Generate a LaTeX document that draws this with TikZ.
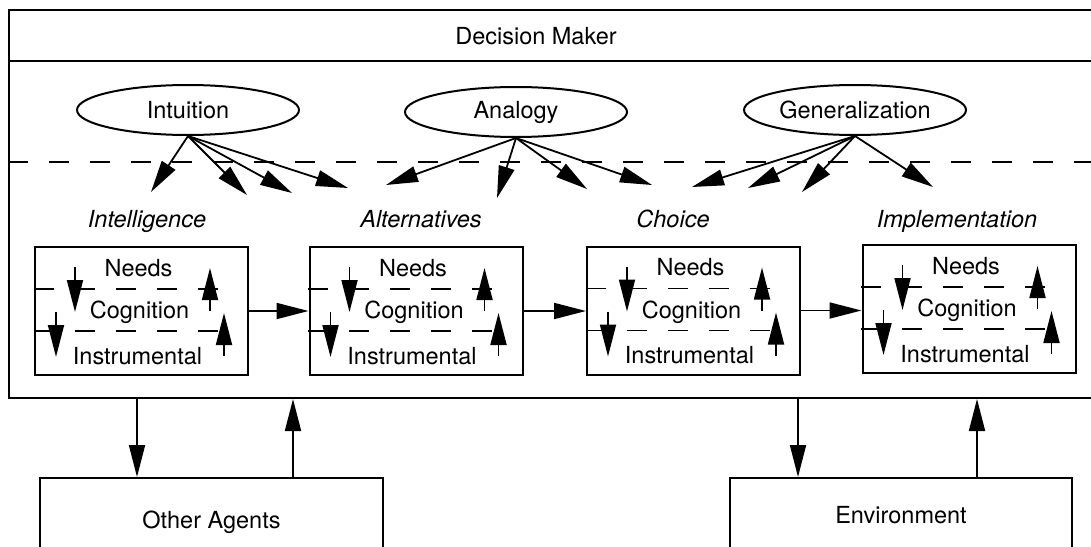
\documentclass[tikz,border=0pt]{standalone}
\usepackage{fontspec}
\setmainfont{TeX Gyre Heros}
\usetikzlibrary{arrows.meta,shapes.geometric,positioning,calc}

\begin{document}
\begin{tikzpicture}[x=1pt, y=-1pt, line width=2pt,
    every node/.style={font=\fontsize{23.5}{28}\selectfont},
    frame/.style={draw, rectangle, inner sep=0pt},
    idea/.style={draw, ellipse, minimum width=222pt, minimum height=50pt, inner sep=0pt},
    stage/.style={draw, rectangle, minimum width=213pt, minimum height=128pt, inner sep=0pt},
    phase/.style={anchor=base, font=\fontsize{23.5}{28}\selectfont\itshape},
    layer/.style={dash pattern=on 20pt off 21pt, line width=1.7pt},
    arr/.style={-{Triangle[length=32pt,width=16pt]}, line width=1.8pt}]

    \clip (0,0) rectangle (1091,546);

    % decision maker frame
    \node[frame, minimum width=1101pt, minimum height=388pt] (dm) at (559.5,204) {};
    \draw ([yshift=-52pt]dm.north west) -- ([yshift=-52pt]dm.north east);
    \node[anchor=base] (dmlabel) at (536,44) {Decision Maker};
    \draw[layer] ([yshift=-153pt]dm.north west) -- ([yshift=-153pt]dm.north east);

    % reasoning modes
    \node[idea] (intu) at (188,110) {Intuition};
    \node[idea] (anal) at (516,112) {Analogy};
    \node[idea] (gene) at (855,110) {Generalization};

    \foreach \tx/\ty [count=\i] in {151/192, 247/195, 292/193, 348/188} {
        \coordinate (ti\i) at (\tx,\ty);
        \draw[arr] (intu.south) -- (ti\i);
    }
    \foreach \tx/\ty [count=\i] in {386/185, 497/198, 587/189, 652/185} {
        \coordinate (ta\i) at (\tx,\ty);
        \draw[arr] (anal.south) -- (ta\i);
    }
    \foreach \tx/\ty [count=\i] in {692/187, 748/188, 802/192, 933/187} {
        \coordinate (tg\i) at (\tx,\ty);
        \draw[arr] (gene.south) -- (tg\i);
    }

    % phases
    \node[phase] (intellbl) at (147,227) {Intelligence};
    \node[phase] (alterlbl) at (421,227) {Alternatives};
    \node[phase] (choicelbl) at (673,227) {Choice};
    \node[phase] (impllbl) at (957,227) {Implementation};

    \node[stage] (intel) at (141.5,311) {};
    \node[stage] (alter) at (416,311) {};
    \node[stage] (choice) at (693.5,310.5) {};
    \node[stage] (impl) at (969,309) {};

    \foreach \b in {intel,alter,choice,impl} {
        \node (\b-n) at ([xshift=-3pt,yshift=43pt]\b.center) {Needs};
        \node (\b-c) at ([xshift=-2pt,yshift=-1.5pt]\b.center) {Cognition};
        \node (\b-i) at ([xshift=-4pt,yshift=-45pt]\b.center) {Instrumental};
        \draw[layer] ([xshift=-108pt,yshift=22pt]\b.center) -- ([xshift=82pt,yshift=22pt]\b.center);
        \draw[layer] ([xshift=-108pt,yshift=-20pt]\b.center) -- ([xshift=82pt,yshift=-20pt]\b.center);
        \draw[arr] ([xshift=-66.5pt,yshift=44pt]\b.center) -- ([xshift=-66.5pt,yshift=-1pt]\b.center);
        \draw[arr] ([xshift=-85.5pt,yshift=-1pt]\b.center) -- ([xshift=-85.5pt,yshift=-46pt]\b.center);
        \draw[arr] ([xshift=68.5pt,yshift=0pt]\b.center) -- ([xshift=68.5pt,yshift=43pt]\b.center);
        \draw[arr] ([xshift=82.5pt,yshift=-45pt]\b.center) -- ([xshift=82.5pt,yshift=-2pt]\b.center);
    }

    \draw[arr] (intel.east) -- (alter.west);
    \draw[arr] (alter.east) -- (alter.east -| choice.west);
    \draw[arr] (choice.east) -- (choice.east -| impl.west);

    % outside world
    \node[frame, minimum width=343pt, minimum height=88pt] (agents) at (211.5,522) {Other Agents};
    \node[frame, minimum width=342pt, minimum height=74pt] (env) at (901,515) {Environment};

    \draw[arr] ($(agents.north |- dm.south)+(-74.5,0)$) -- ($(agents.north)+(-74.5,0)$);
    \draw[arr] ($(agents.north)+(81.5,0)$) -- ($(agents.north |- dm.south)+(81.5,0)$);
    \draw[arr] ($(env.north |- dm.south)+(-103,0)$) -- ($(env.north)+(-103,0)$);
    \draw[arr] ($(env.north)+(76,0)$) -- ($(env.north |- dm.south)+(76,0)$);
\end{tikzpicture}
\end{document}
